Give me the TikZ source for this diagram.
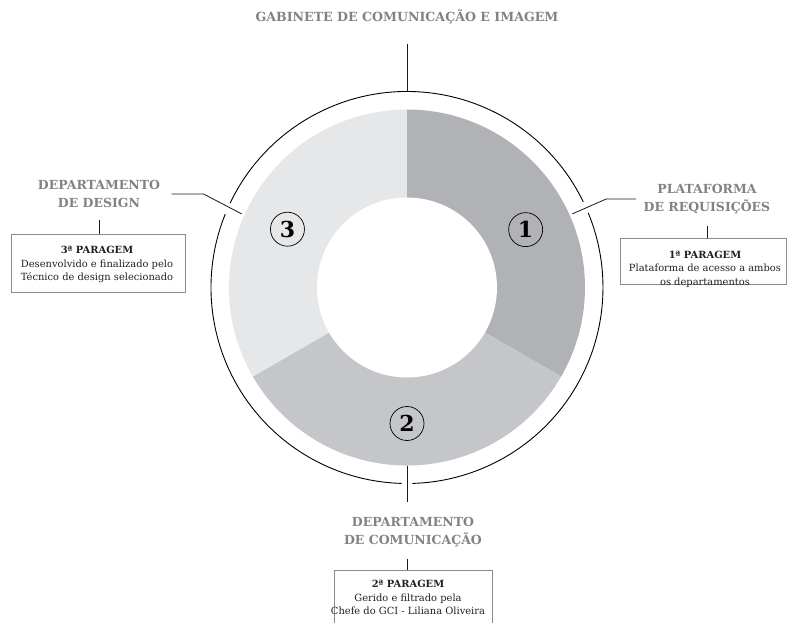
\documentclass[tikz,border=0pt]{standalone}
\usepackage{fontspec}
\setmainfont{DejaVu Serif}
\usetikzlibrary{positioning}

\definecolor{segone}{HTML}{B1B2B5}
\definecolor{segtwo}{HTML}{C5C6C9}
\definecolor{segthree}{HTML}{E6E7E9}
\definecolor{headgray}{HTML}{808285}
\definecolor{boxgray}{HTML}{8C8C8C}
\definecolor{textdark}{HTML}{231F20}

\begin{document}
\begin{tikzpicture}[x=1pt, y=1pt,
            head node/.style={text=headgray, font=\bfseries\fontsize{12.5}{18}\selectfont, align=center},
            stage box/.style={draw=boxgray, line width=0.7pt, inner sep=0pt},
            stage text/.style={text=textdark, font=\fontsize{9.9}{13.5}\selectfont, align=center, inner sep=0pt},
            num node/.style={circle, draw=black, line width=0.7pt, minimum size=34pt, inner sep=0pt, font=\bfseries\fontsize{22}{22}\selectfont},
            lead/.style={draw=black!90, line width=0.8pt},
            ring/.style={draw=black, line width=0.9pt},
            ]
            \useasboundingbox (-407,-335.5) rectangle (380,287.5);
            \clip (-407,-335.5) rectangle (380,287.5);
            \def\Rin{90pt}
            \def\Rout{178pt}
            \def\Rring{196pt}

            % donut
            \fill[segone] (0,0) -- (90:\Rout) arc[start angle=90, end angle=-30, radius=\Rout] -- cycle;
            \fill[segtwo] (0,0) -- (-30:\Rout) arc[start angle=-30, end angle=-150, radius=\Rout] -- cycle;
            \fill[segthree] (0,0) -- (210:\Rout) arc[start angle=210, end angle=90, radius=\Rout] -- cycle;
            \fill[white] (0,0) circle[radius=\Rin];

            % outer ring with gaps
            \draw[ring] (25.9:\Rring) arc[start angle=25.9, end angle=154.5, radius=\Rring];
            \draw[ring] (158:\Rring) arc[start angle=158, end angle=268.4, radius=\Rring];
            \draw[ring] (271.6:\Rring) arc[start angle=271.6, end angle=382.3, radius=\Rring];

            \node[num node] (n1) at (26:132pt) {1};
            \node[num node] (n2) at (270:136pt) {2};
            \node[num node] (n3) at (154:133pt) {3};

            % headings
            \node[head node, font=\bfseries\fontsize{12.6}{16}\selectfont] (gci) at (0,270.5) {GABINETE DE COMUNICAÇÃO E IMAGEM};
            \node[head node] (dsgn) at (-308,93.5) {DEPARTAMENTO\\DE DESIGN};
            \node[head node] (plat) at (300,88.5) {PLATAFORMA\\DE REQUISIÇÕES};
            \node[head node] (com) at (6,-244.5) {DEPARTAMENTO\\DE COMUNICAÇÃO};

            % stage boxes
            \node[stage box, minimum width=166pt, minimum height=46pt] (box1) at (296,26) {};
            \node[stage box, minimum width=158pt, minimum height=60pt, anchor=north] (box2) at (6,-282.5) {};
            \node[stage box, minimum width=174pt, minimum height=58pt] (box3) at (-309,24.5) {};
            \node[stage text] (st1) at (298,18.5) {\textbf{1ª PARAGEM}\\Plataforma de acesso a ambos\\os departamentos};
            \node[stage text] (st2) at (1,-310) {\textbf{2ª PARAGEM}\\Gerido e filtrado pela\\Chefe do GCI - Liliana Oliveira};
            \node[stage text] (st3) at (-310,23) {\textbf{3ª PARAGEM}\\Desenvolvido e finalizado pelo\\Técnico de design selecionado};

            % leaders
            \coordinate (top) at (90:\Rring);
            \coordinate (lft) at (156:181pt);
            \coordinate (rgt) at (24:181pt);
            \coordinate (bot) at (270:\Rout);

            \draw[lead, shorten <=16pt] (gci) -- (top);
            \draw[lead, shorten <=8pt] (dsgn.east) -- ++(40,0) -- (lft);
            \draw[lead, shorten <=4pt] (plat.west) -- ++(-34,0) -- (rgt);
            \draw[lead, shorten >=12pt] (bot) -- (bot |- com.north);

            \draw[lead, shorten <=9pt] (dsgn.south) -- (dsgn.south |- box3.north);
            \draw[lead, shorten <=9pt] (plat.south) -- (plat.south |- box1.north);
            \draw[lead, shorten <=9pt] (bot |- com.south) -- (bot |- box2.north);
        \end{tikzpicture}
\end{document}
